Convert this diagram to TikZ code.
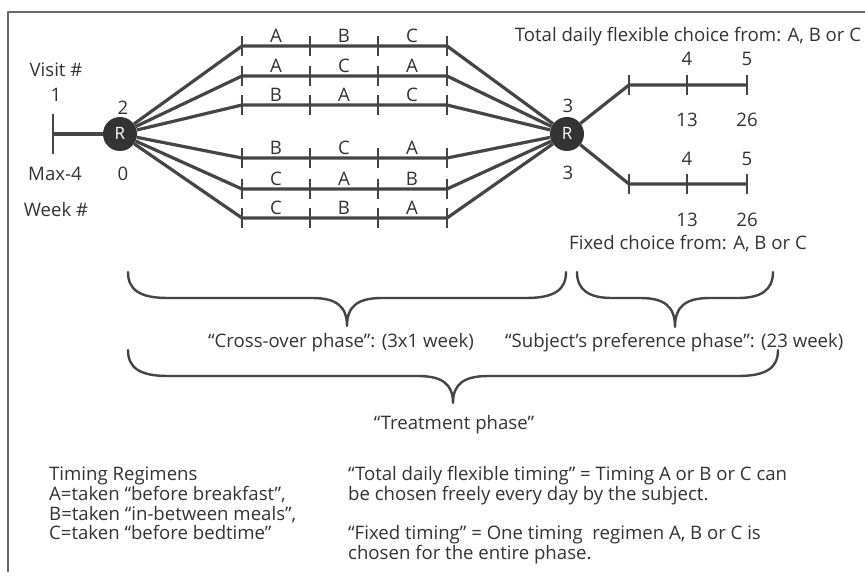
\documentclass[tikz,border=0pt]{standalone}
\usepackage{fontspec}
\setmainfont{Open Sans}
\definecolor{ln}{HTML}{454545}
\definecolor{dark}{HTML}{333333}
\definecolor{txt}{HTML}{333333}
\definecolor{frame}{HTML}{6A6A6A}
\begin{document}
\begin{tikzpicture}[x=1pt,y=-1pt,line join=round,
  every node/.style={text=txt,font=\fontsize{18.6}{20}\selectfont,inner sep=0pt,
    text height=13pt,text depth=0pt},
  arm/.style={draw=ln,line width=3.2pt},
  tickmark/.style={draw=ln,line width=2.7pt},
  rnode/.style={circle,fill=dark,minimum size=34pt,text=white,
    font=\fontsize{17}{19}\selectfont,text height=12pt},
  brace/.style={draw=ln,line width=2.4pt,line cap=round},
  lefttext/.style={anchor=west}]
\useasboundingbox (0,0) rectangle (865,583);
% outer frame (left and top edges)
\draw[frame,line width=1.1pt] (8,572) -- (8,12) -- (865,12);

% randomisation points
\node[rnode] (R1) at (120,134) {R};
\node[rnode] (R2) at (567,134) {R};

% screening visit
\coordinate (s0) at (53,134);
\draw[arm] (s0) -- (R1);
\draw[tickmark] ([yshift=20pt]s0) -- ([yshift=-20pt]s0);

% cross-over sequences
\foreach \row/\y/\a/\b/\c in {1/46/A/B/C,2/76/A/C/A,3/105/B/A/C,4/158/B/C/A,5/189/C/A/B,6/218/C/B/A}{
  \foreach \i/\x in {0/242,1/310,2/378,3/447}{
    \coordinate (p\row-\i) at (\x,\y);
  }
  \draw[arm] (R1) -- (p\row-0) -- (p\row-3) -- (R2);
  \foreach \i in {0,1,2,3}{
    \draw[tickmark] ([yshift=10pt]p\row-\i) -- ([yshift=-10pt]p\row-\i);
  }
  \node (l\row a) at (276,\y-10) {\a};
  \node (l\row b) at (344,\y-10) {\b};
  \node (l\row c) at (412,\y-10) {\c};
}

% preference phase arms
\coordinate (u0) at (629,85);
\coordinate (u1) at (687,85);
\coordinate (u2) at (747,85);
\coordinate (d0) at (629,184);
\coordinate (d1) at (687,184);
\coordinate (d2) at (747,184);
\draw[arm] (R2) -- (u0) -- (u2);
\draw[arm] (R2) -- (d0) -- (d2);
\foreach \p in {u0,u1,u2,d0,d1,d2}{
  \draw[tickmark] ([yshift=10pt]\p) -- ([yshift=-10pt]\p);
}

% visit and week labels
\node (visit) at (56,70) {Visit \#};
\node (v1) at (56,95) {1};
\node (maxw) at (55,174) {Max-4};
\node (week) at (56,210) {Week \#};
\node (v2) at (123,108) {2};
\node (w0) at (123,174) {0};
\node (v3a) at (568,106) {3};
\node (v3b) at (568,173) {3};
\node (v4a) at (687,59) {4};
\node (v5a) at (747,59) {5};
\node (w13a) at (687,120) {13};
\node (w26a) at (747,120) {26};
\node (v4b) at (687,159) {4};
\node (v5b) at (747,159) {5};
\node (w13b) at (687,220) {13};
\node (w26b) at (747,220) {26};
\node (flex) at (688,35) {Total daily flexible choice from: A, B or C};
\node (fixed) at (688,243) {Fixed choice from: A, B or C};

% phase braces
\draw[brace] (128,272) .. controls (128,290) and (140,298) .. (168,298) -- (312,298)
  .. controls (336,298) and (347,306) .. (347,326)
  .. controls (347,306) and (358,298) .. (382,298) -- (526,298)
  .. controls (554,298) and (566,290) .. (566,272);
\draw[brace] (577,272) .. controls (577,290) and (589,298) .. (612,298) -- (640,298)
  .. controls (664,298) and (675,306) .. (675,327)
  .. controls (675,306) and (686,298) .. (710,298) -- (738,298)
  .. controls (761,298) and (773,290) .. (773,272);
\draw[brace] (128,350) .. controls (128,368) and (140,376) .. (168,376) -- (418,376)
  .. controls (442,376) and (453,384) .. (453,403)
  .. controls (453,384) and (464,376) .. (488,376) -- (738,376)
  .. controls (766,376) and (778,368) .. (778,350);

\node[lefttext] (cross) at (208,341) {“Cross-over phase”: (3x1 week)};
\node[lefttext] (pref) at (505,341) {“Subject’s preference phase”: (23 week)};
\node (treat) at (454,423) {“Treatment phase”};

% legend
\node[lefttext] (t1) at (49,474) {Timing Regimens};
\node[lefttext] (t2) at (49,494) {A=taken “before breakfast”,};
\node[lefttext] (t3) at (49,514) {B=taken “in-between meals”,};
\node[lefttext] (t4) at (49,533) {C=taken “before bedtime”};
\node[lefttext] (e1) at (348,474) {“Total daily flexible timing” = Timing A or B or C can};
\node[lefttext] (e2) at (348,494) {be chosen freely every day by the subject.};
\node[lefttext] (e3) at (348,533) {“Fixed timing” = One timing\ \ regimen A, B or C is};
\node[lefttext] (e4) at (348,553) {chosen for the entire phase.};
\end{tikzpicture}
\end{document}
